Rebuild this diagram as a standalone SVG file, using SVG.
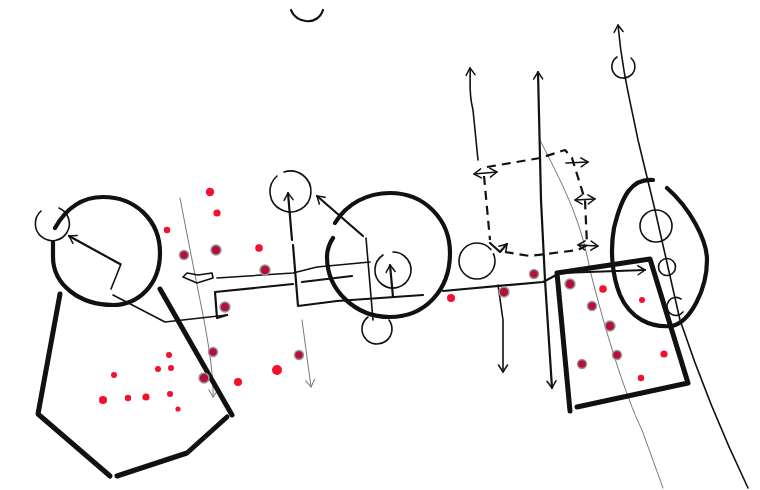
<svg xmlns="http://www.w3.org/2000/svg" width="760" height="490" viewBox="0 0 760 490">
<style>
path,circle.o{fill:none;stroke:#111;stroke-linecap:round;stroke-linejoin:round}
.x{stroke-width:5}.k{stroke-width:4.2}.m{stroke-width:2.2}.t{stroke-width:1.6}
.g{stroke:#777;stroke-width:1}.d{stroke-width:2.2;stroke-dasharray:9 6;stroke-linecap:butt}
.r{fill:#f5102f;stroke:none}
.h{fill:#b5103a;stroke:#999;stroke-width:1.5}
</style>
<defs>
<marker id="a" markerWidth="12" markerHeight="12" refX="10" refY="6" orient="auto-start-reverse" markerUnits="userSpaceOnUse"><path d="M3 1.5L10 6L3 10.5" style="stroke-width:1.5"/></marker>
<marker id="b" markerWidth="12" markerHeight="12" refX="10" refY="6" orient="auto-start-reverse" markerUnits="userSpaceOnUse"><path d="M3 1.5L10 6L3 10.5" style="stroke:#777;stroke-width:1"/></marker>
</defs>
<rect width="760" height="490" fill="#fff"/>
<g id="connectors">
<path class="g" d="M180 198Q190 250 202 310T213 397" marker-end="url(#b)"/>
<path class="g" d="M302 320L311 387" marker-end="url(#b)"/>
<path class="g" d="M540 140C560 180 580 215 590 270C605 330 625 395 642 430L663 488"/>
<path class="t" d="M217 278L293 273L317 267L370 262"/>
<path class="m" d="M227 315L217 318L215 292L293 284M302 282L352 276"/>
<path class="t" d="M165 322L227 315M113 295L165 322M121 264L111 289"/>
<path class="m" d="M120 264L69 236" marker-end="url(#a)"/>
<path class="m" d="M293 245L298 306L337 301L423 295M292 240L288 193" marker-end="url(#a)"/>
<path class="m" d="M393 297L390 265" marker-end="url(#a)"/>
<path class="m" d="M363 236L317 196" marker-end="url(#a)"/>
<path class="t" d="M366 238L373 320"/>
<path class="m" d="M443 291L543 282L560 273L645 270" marker-end="url(#a)"/>
<path class="t" d="M478 160L473 110C468 90 471 80 470 68" marker-end="url(#a)"/>
<path class="m" d="M541 200L538 72" marker-end="url(#a)"/>
<path class="m" d="M541 200L545 280L552 388" marker-end="url(#a)"/>
<path class="t" d="M498 285L503 320L503 372" marker-end="url(#a)"/>
<path class="t" d="M748 488C725 440 700 380 680 320L655 210L638 140C630 100 622 70 618 25" marker-end="url(#a)"/>
<path class="d" d="M484 176L490 240M487 167L540 158L565 150L572 158L585 200L587 245L578 250L530 256L505 252"/>
<path class="m" d="M490 243L500 252L507 244" marker-end="url(#a)"/>
<path class="t" d="M474 174L497 172" marker-start="url(#a)" marker-end="url(#a)"/>
<path class="t" d="M566 163L588 162" marker-end="url(#a)"/>
<path class="t" d="M575 200L595 199" marker-start="url(#a)" marker-end="url(#a)"/>
<path class="t" d="M578 245L598 246" marker-start="url(#a)" marker-end="url(#a)"/>
</g>
<g id="node-left">
<path class="k" d="M55 228C68 205 85 197 103 197C135 197 160 220 160 253C160 285 138 305 113 305C80 305 53 285 53 257L53 242"/>
<path class="t" d="M41 211A17 17 0 1 0 59 208"/>
<path class="x" d="M60 294L38 414L110 476M117 476L187 453L227 417M160 289L232 415"/>
<path class="t" d="M183 277L187 273L198 275L212 273L213 278L197 283Z"/>
</g>
<g id="node-mid">
<path class="k" d="M335 223C347 203 368 193 390 193C425 193 450 220 450 253C450 290 425 317 390 317C355 317 327 290 327 257C327 250 329 244 333 238"/>
<path class="t" d="M277 176A20.500 20.500 0 1 0 284 172"/>
<path class="t" d="M383 255A18 18 0 1 0 393 252"/>
<path class="t" d="M368 317A15 15 0 1 0 389 320"/>
</g>
<g id="node-right">
<circle class="o t" cx="477" cy="261" r="18" stroke-dasharray="100 5"/>
<path class="x" d="M557 273L650 259L688 383L577 407M557 273L570 411"/>
<path class="k" d="M653 180C632 178 622 195 614 228C610 250 612 275 620 295C630 318 650 328 672 326C690 322 707 290 707 260C707 240 690 208 667 188"/>
<circle class="o t" cx="656" cy="226" r="16"/>
<circle class="o t" cx="667" cy="267" r="8.5"/>
<path class="t" d="M681 299A9 9 0 1 0 683 312"/>
<path class="t" d="M617 57A11.500 11.500 0 1 0 631 58"/>
<path class="m" d="M291 10C296 24 318 26 323 10"/>
</g>
<g id="dots">
<circle class="r" cx="210" cy="192" r="4.2"/><circle class="r" cx="217" cy="213" r="3.6"/><circle class="r" cx="167" cy="230" r="3.2"/><circle class="r" cx="259" cy="248" r="3.8"/>
<circle class="r" cx="114" cy="375" r="3"/><circle class="r" cx="103" cy="400" r="4"/><circle class="r" cx="128" cy="398" r="3.2"/><circle class="r" cx="146" cy="397" r="3.6"/>
<circle class="r" cx="158" cy="369" r="3"/><circle class="r" cx="169" cy="355" r="3"/><circle class="r" cx="171" cy="368" r="3"/><circle class="r" cx="170" cy="394" r="3"/><circle class="r" cx="178" cy="409" r="2.6"/>
<circle class="r" cx="238" cy="382" r="4"/><circle class="r" cx="277" cy="370" r="5"/><circle class="r" cx="451" cy="298" r="4"/>
<circle class="r" cx="603" cy="289" r="3.8"/><circle class="r" cx="642" cy="300" r="3"/><circle class="r" cx="664" cy="354" r="3.6"/><circle class="r" cx="641" cy="378" r="3.2"/>
<circle class="h" cx="184" cy="255" r="4.5"/><circle class="h" cx="216" cy="250" r="5"/><circle class="h" cx="265" cy="270" r="5"/><circle class="h" cx="225" cy="307" r="5"/>
<circle class="h" cx="213" cy="352" r="4.5"/><circle class="h" cx="204" cy="378" r="5"/><circle class="h" cx="299" cy="355" r="4.5"/>
<circle class="h" cx="534" cy="274" r="4.5"/><circle class="h" cx="504" cy="292" r="5"/><circle class="h" cx="570" cy="284" r="5"/><circle class="h" cx="592" cy="306" r="4.5"/>
<circle class="h" cx="610" cy="326" r="5"/><circle class="h" cx="617" cy="355" r="4.5"/><circle class="h" cx="582" cy="364" r="4.5"/>
</g>
</svg>
